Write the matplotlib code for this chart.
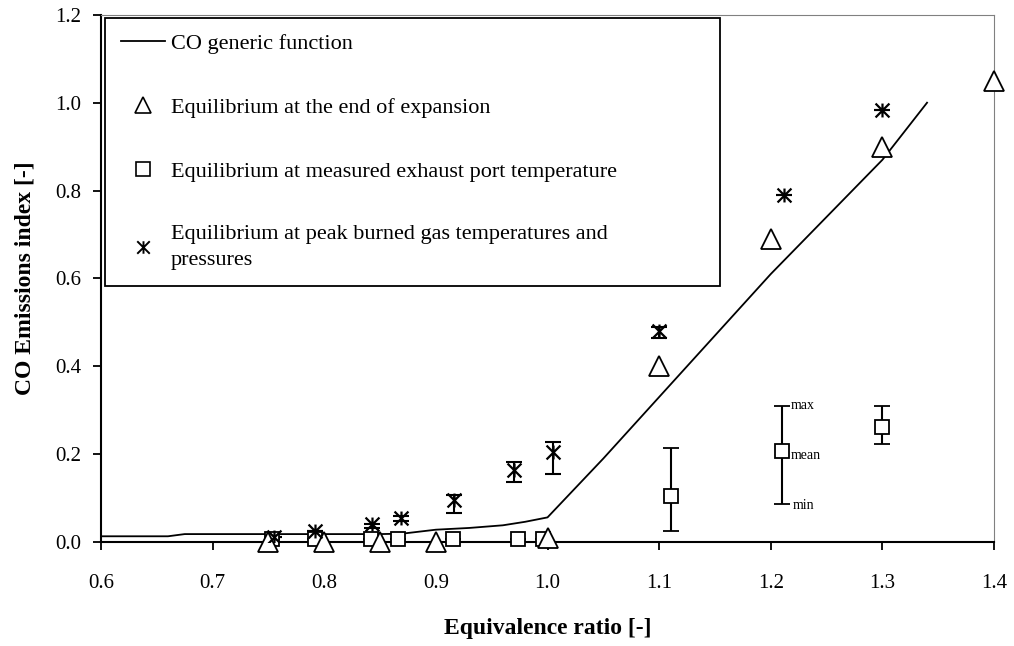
import matplotlib.pyplot as plt
import numpy as np
from matplotlib.path import Path

plt.rcParams['font.family'] = ['Liberation Serif', 'DejaVu Serif']

# CO generic function
line_x = [0.60, 0.66, 0.675, 0.70, 0.75, 0.80, 0.85, 0.87, 0.90, 0.93, 0.96, 0.98, 1.00,
          1.05, 1.10, 1.15, 1.20, 1.25, 1.30, 1.34]
line_y = [0.013, 0.013, 0.018, 0.018, 0.018, 0.018, 0.018, 0.019, 0.028, 0.032, 0.038, 0.046, 0.056,
          0.19, 0.33, 0.47, 0.61, 0.74, 0.87, 1.0]

# equilibrium at the end of expansion
tri_x = [0.75, 0.80, 0.85, 0.90, 1.00, 1.10, 1.20, 1.30, 1.40]
tri_y = [0.0, 0.0, 0.0, 0.0, 0.01, 0.40, 0.69, 0.90, 1.05]

# equilibrium at measured exhaust port temperature (mean, min, max)
sq_x = [0.753, 0.792, 0.842, 0.866, 0.915, 0.974, 0.996, 1.111, 1.21, 1.30]
sq_y = [0.006, 0.006, 0.006, 0.006, 0.006, 0.006, 0.006, 0.105, 0.207, 0.262]
sq_min = [0.006, 0.006, 0.006, 0.006, 0.006, 0.006, 0.006, 0.025, 0.087, 0.222]
sq_max = [0.006, 0.006, 0.006, 0.006, 0.006, 0.006, 0.006, 0.215, 0.310, 0.310]

# equilibrium at peak burned gas temperatures and pressures
st_x = [0.755, 0.792, 0.843, 0.869, 0.916, 0.970, 1.005, 1.10, 1.212, 1.30]
st_y = [0.012, 0.025, 0.040, 0.055, 0.095, 0.165, 0.205, 0.480, 0.790, 0.984]
st_min = [0.012, 0.025, 0.031, 0.048, 0.066, 0.137, 0.155, 0.465, 0.790, 0.984]
st_max = [0.012, 0.025, 0.040, 0.060, 0.107, 0.182, 0.228, 0.490, 0.790, 0.984]

# asterisk marker: an X with a vertical bar
star = Path([(-1, -1), (1, 1), (-1, 1), (1, -1), (0, -1), (0, 1)],
            [Path.MOVETO, Path.LINETO, Path.MOVETO, Path.LINETO, Path.MOVETO, Path.LINETO])

fig = plt.figure(figsize=(10.14, 6.46), dpi=100)
ax = fig.add_axes([0.0996, 0.161, 0.8807, 0.816])

ax.plot(line_x, line_y, color='black', lw=1.3, label='CO generic function')

ax.plot(tri_x, tri_y, linestyle='none', marker='^', ms=15, mfc='white', mec='black', mew=1.3,
        clip_on=False, zorder=4)

sq_x = np.array(sq_x)
sq_y = np.array(sq_y)
sq_err = [sq_y - np.array(sq_min), np.array(sq_max) - sq_y]
eb = ax.errorbar(sq_x, sq_y, yerr=sq_err, fmt='s', ms=10, mfc='white', mec='black', mew=1.3,
                 ecolor='black', elinewidth=1.5, capsize=6, capthick=1.5, zorder=3)
for art in eb.get_children():
    art.set_clip_on(False)

st_x = np.array(st_x)
st_y = np.array(st_y)
st_err = [st_y - np.array(st_min), np.array(st_max) - st_y]
ax.errorbar(st_x, st_y, yerr=st_err, fmt='none', ecolor='black', elinewidth=1.5,
            capsize=6, capthick=1.5, zorder=3)
ax.plot(st_x, st_y, linestyle='none', marker=star, ms=10, mec='black', mew=1.6, zorder=4)

# annotation for min / mean / max
ax.text(1.218, 0.310, 'max', fontsize=10, va='center')
ax.text(1.218, 0.196, 'mean', fontsize=10, va='center')
ax.text(1.22, 0.082, 'min', fontsize=10, va='center')

# legend handles
h_line = plt.Line2D([], [], color='black', lw=1.3)
h_tri = plt.Line2D([], [], linestyle='none', marker='^', ms=11, mfc='white', mec='black', mew=1.2)
h_sq = plt.Line2D([], [], linestyle='none', marker='s', ms=10, mfc='white', mec='black', mew=1.2)
h_st = plt.Line2D([], [], linestyle='none', marker=star, ms=9, mec='black', mew=1.4)
leg = ax.legend([h_line, h_tri, h_sq, h_st],
                ['CO generic function', 'Equilibrium at the end of expansion',
                 'Equilibrium at measured exhaust port temperature',
                 'Equilibrium at peak burned gas temperatures and\npressures'],
                loc='upper left', bbox_to_anchor=(0.0045, 0.484, 0.689, 0.51), mode='expand',
                fontsize=16, frameon=True, fancybox=False, edgecolor='black', labelspacing=1.95,
                handlelength=2.0, handletextpad=0.25, borderpad=0.7, borderaxespad=0)
leg.get_frame().set_linewidth(1.3)
leg.get_frame().set_alpha(1)
leg.get_texts()[3].set_linespacing(1.5)

ax.set_xlim(0.6, 1.4)
ax.set_ylim(0.0, 1.2)
ax.set_xticks(np.arange(0.6, 1.41, 0.1))
ax.set_yticks(np.arange(0.0, 1.21, 0.2))
ax.xaxis.set_major_formatter(plt.FormatStrFormatter('%.1f'))
ax.yaxis.set_major_formatter(plt.FormatStrFormatter('%.1f'))
ax.tick_params(direction='out', length=6, width=1.3, labelsize=15, colors='black')
ax.tick_params(axis='x', pad=17)
ax.tick_params(axis='y', pad=8)

ax.spines['left'].set_linewidth(1.5)
ax.spines['bottom'].set_linewidth(1.5)
ax.spines['top'].set_color('gray')
ax.spines['right'].set_color('gray')

ax.set_xlabel('Equivalence ratio [-]', fontsize=17, fontweight='bold', labelpad=18)
ax.set_ylabel('CO Emissions index [-]', fontsize=17, fontweight='bold', labelpad=14)

plt.savefig('out.png', dpi=100)
